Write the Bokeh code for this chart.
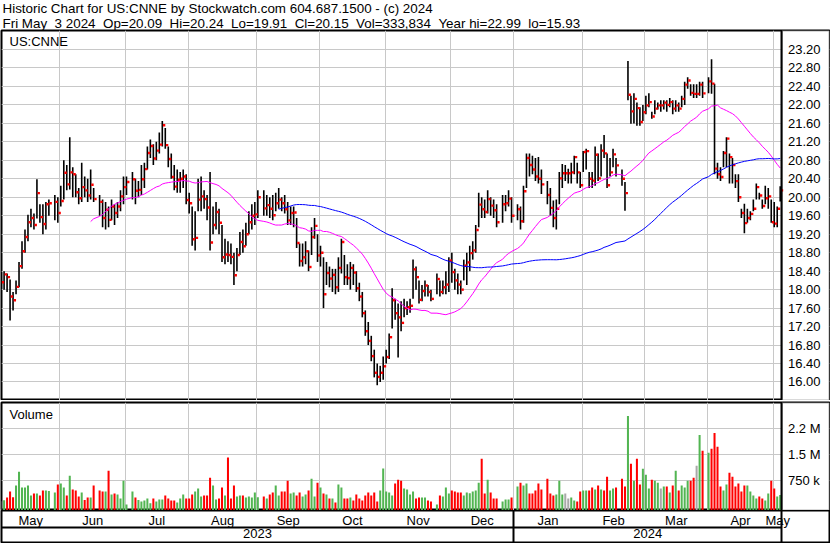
import numpy as np
import pandas as pd
from bokeh.plotting import figure
from bokeh.layouts import column
from bokeh.models import (ColumnDataSource, Range1d, LinearAxis, FixedTicker,
                          BoxAnnotation, Label, Title, PrintfTickFormatter)
from bokeh.transform import dodge
from bokeh.embed import file_html
from bokeh.resources import INLINE

# ---------------- data ----------------
first_day = "2023-05-04"
last_day = "2024-05-03"
holidays = ["2023-05-29", "2023-06-19", "2023-07-04", "2023-09-04", "2023-11-23",
            "2023-12-25", "2024-01-01", "2024-01-15", "2024-02-19", "2024-03-29"]

high = [
    18.38, 18.40,
    18.35, 18.22, 17.95, 18.20, 18.60,
    19.05, 19.30, 19.62, 19.75, 19.65,
    20.39, 19.85, 19.85, 19.90, 19.95,
    20.05, 20.00, 20.25, 20.80,
    20.70, 21.30, 20.65, 20.50, 20.20,
    20.75, 20.45, 20.40, 20.60, 20.20,
    20.05, 19.95, 19.90, 19.80,
    19.95, 19.85, 19.90, 20.15, 20.45,
    20.45, 20.55, 20.40, 20.35,
    20.70, 20.75, 21.10, 21.25, 21.15,
    21.20, 21.40, 21.65, 21.50, 21.10,
    20.95, 20.70, 20.60, 20.55, 20.60,
    20.50, 20.10, 19.80, 19.70, 20.40,
    20.45, 20.15, 20.05, 20.55, 19.80,
    19.90, 19.75, 19.40, 19.10, 19.05,
    19.00, 18.80, 18.90, 19.25, 19.30,
    19.45, 19.70, 19.85, 19.90, 20.15,
    20.15, 20.05, 20.00, 20.05,
    20.10, 20.20, 20.00, 20.05, 19.90,
    19.80, 19.80, 19.55, 19.00, 19.00,
    19.05, 18.85, 19.35, 19.55, 19.20,
    18.95, 18.70, 18.60, 18.50, 18.45,
    18.45, 18.70, 19.10, 18.75, 18.55,
    18.60, 18.55, 18.40, 18.15, 17.95,
    17.55, 17.30, 17.00, 16.70, 16.40,
    16.35, 16.55, 16.70, 17.05, 18.03,
    17.80, 17.70, 17.75, 17.80, 17.75,
    17.80, 18.65, 18.50, 18.20, 18.10,
    18.20, 18.10, 18.00, 18.35,
    18.20, 18.20, 18.40, 18.70, 18.80,
    18.45, 18.35, 18.20, 18.65, 18.80,
    18.95, 19.05, 19.40, 20.10, 20.00,
    19.95, 20.15, 20.00, 19.95, 19.85,
    20.05, 20.05, 20.15, 20.00,
    19.85, 19.80, 20.25, 20.95,
    20.95, 20.90, 20.85, 20.87, 20.60,
    20.35, 20.20, 19.93, 19.95,
    20.55, 20.72, 20.70, 20.62, 20.75,
    20.90, 20.75, 20.55, 21.00, 21.05,
    20.55, 20.55, 21.10, 20.95, 21.15,
    21.35, 20.95, 20.85, 21.05, 20.85,
    20.60, 20.33, 22.95, 22.20,
    22.25, 22.05, 21.95, 22.00, 22.20,
    22.25, 21.85, 22.10, 22.05, 22.10,
    22.10, 22.10, 22.15, 22.10, 22.10,
    22.05, 22.20, 22.50, 22.60, 22.45,
    22.45, 22.45, 22.50, 22.50,
    22.60, 22.99, 22.46, 20.75, 20.65,
    21.00, 21.30, 20.95, 20.85, 20.50,
    20.50, 19.75, 19.86, 19.75, 19.70,
    19.95, 20.30, 20.10, 19.95, 20.25,
    20.20, 19.95, 19.90, 19.80, 20.24,
]

low = [
    17.98, 18.00,
    17.95, 17.33, 17.55, 17.90, 18.05,
    18.45, 18.80, 19.05, 19.35, 19.30,
    19.54, 19.45, 19.20, 19.30, 19.60,
    19.50, 19.45, 19.80, 19.95,
    20.15, 20.17, 20.00, 20.00, 19.85,
    19.90, 20.00, 19.90, 19.95, 19.90,
    19.60, 19.35, 19.30, 19.35,
    19.50, 19.40, 19.55, 19.70, 19.85,
    20.05, 19.95, 19.85, 20.00,
    20.05, 20.20, 20.60, 20.85, 20.70,
    20.80, 20.95, 21.10, 21.05, 20.65,
    20.40, 20.15, 20.10, 20.10, 20.20,
    19.85, 19.65, 18.95, 18.85, 19.70,
    19.70, 19.75, 19.50, 18.85, 19.20,
    19.30, 19.20, 18.60, 18.55, 18.60,
    18.55, 18.10, 18.40, 18.75, 18.80,
    18.95, 19.20, 19.30, 19.40, 19.55,
    19.60, 19.60, 19.55, 19.50,
    19.70, 19.75, 19.70, 19.65, 19.40,
    19.40, 19.35, 18.90, 18.50, 18.50,
    18.55, 18.40, 18.75, 19.10, 18.60,
    18.50, 17.60, 18.10, 18.05, 17.95,
    17.90, 17.95, 18.35, 18.10, 18.10,
    18.00, 18.10, 17.95, 17.75, 17.40,
    17.00, 16.80, 16.45, 16.10, 15.93,
    16.00, 16.05, 16.40, 16.50, 17.16,
    17.35, 16.53, 17.10, 17.40, 17.45,
    17.50, 17.80, 18.00, 17.70, 17.75,
    17.85, 17.85, 17.75, 17.90,
    17.85, 17.90, 17.90, 17.95, 18.15,
    18.00, 17.90, 17.90, 18.20, 18.10,
    18.40, 18.65, 18.80, 19.35, 19.55,
    19.55, 19.65, 19.60, 19.55, 19.35,
    19.45, 19.70, 19.80, 19.45,
    19.50, 19.30, 19.45, 20.20,
    20.45, 20.50, 20.35, 20.30, 20.07,
    19.85, 19.60, 19.35, 19.30,
    19.85, 20.20, 20.35, 20.30, 20.30,
    20.50, 20.30, 20.20, 20.55, 20.60,
    20.20, 20.20, 20.25, 20.35, 20.45,
    20.85, 20.20, 20.45, 20.65, 20.45,
    20.25, 19.71, 22.10, 21.59,
    21.60, 21.55, 21.55, 21.65, 21.80,
    21.95, 21.70, 21.80, 21.90, 21.85,
    21.90, 21.85, 21.95, 21.80, 21.85,
    21.85, 21.95, 22.00, 22.35, 22.20,
    22.15, 22.15, 22.20, 22.15,
    22.25, 22.24, 20.50, 20.40, 20.35,
    20.65, 20.65, 20.30, 20.30, 20.20,
    19.90, 19.55, 19.22, 19.45, 19.50,
    19.70, 19.95, 19.95, 19.75, 19.85,
    19.75, 19.45, 19.35, 19.35, 19.91,
]

close = [
    18.16, 18.33,
    18.27, 17.85, 17.77, 18.06, 18.51,
    18.83, 19.14, 19.46, 19.55, 19.40,
    20.09, 19.57, 19.42, 19.85, 19.87,
    19.90, 19.66, 19.92, 20.53,
    20.28, 20.54, 20.50, 20.11, 19.98,
    20.22, 20.15, 20.04, 20.27, 19.96,
    19.90, 19.55, 19.73, 19.51,
    19.80, 19.66, 19.80, 20.02, 20.22,
    20.33, 20.39, 20.14, 20.16,
    20.39, 20.61, 20.96, 21.11, 20.84,
    21.01, 21.14, 21.56, 21.13, 20.83,
    20.44, 20.23, 20.38, 20.40, 20.45,
    19.94, 19.87, 19.09, 19.12, 19.95,
    20.02, 19.96, 19.78, 19.02, 19.40,
    19.68, 19.45, 18.70, 18.76, 18.75,
    18.71, 18.31, 18.75, 19.03, 18.94,
    19.20, 19.46, 19.60, 19.63, 20.00,
    19.76, 19.83, 19.75, 19.61,
    19.87, 19.95, 19.87, 19.74, 19.50,
    19.66, 19.67, 19.01, 18.62, 18.70,
    18.83, 18.49, 19.14, 19.38, 18.74,
    18.80, 17.90, 18.36, 18.24, 18.32,
    18.05, 18.47, 19.03, 18.27, 18.25,
    18.47, 18.37, 18.03, 17.85, 17.49,
    17.10, 16.89, 16.56, 16.20, 16.11,
    16.20, 16.34, 16.54, 16.97, 17.77,
    17.49, 17.40, 17.28, 17.60, 17.62,
    17.65, 18.44, 18.27, 17.78, 17.97,
    18.09, 17.95, 17.80, 18.23,
    17.95, 18.05, 18.11, 18.63, 18.38,
    18.20, 18.11, 18.00, 18.52, 18.59,
    18.79, 18.85, 19.29, 19.84, 19.74,
    19.68, 19.96, 19.82, 19.72, 19.46,
    19.85, 19.87, 19.97, 19.60,
    19.74, 19.48, 20.13, 20.85,
    20.70, 20.60, 20.45, 20.40, 20.28,
    20.05, 19.77, 19.55, 19.75,
    20.41, 20.52, 20.52, 20.52, 20.54,
    20.87, 20.54, 20.26, 20.98, 21.00,
    20.40, 20.36, 20.92, 20.41, 21.01,
    20.95, 20.26, 20.54, 20.93, 20.69,
    20.40, 20.09, 22.22, 21.86,
    22.13, 21.93, 21.63, 21.84, 21.99,
    22.06, 21.75, 21.92, 21.99, 21.99,
    22.05, 22.00, 22.06, 21.92, 21.99,
    21.92, 22.13, 22.44, 22.53, 22.26,
    22.24, 22.24, 22.44, 22.25,
    22.51, 22.46, 20.62, 20.50, 20.44,
    20.96, 21.27, 20.87, 20.70, 20.35,
    20.00, 19.66, 19.44, 19.55, 19.64,
    19.75, 20.22, 20.04, 19.81, 19.98,
    20.02, 19.46, 19.43, 19.75, 20.15,
]

volume_k = [
    150, 180,
    260, 433, 269, 606, 1010,
    548, 548, 606, 317, 375,
    375, 317, 462, 462, 450,
    404, 635, 664, 548,
    317, 894, 490, 462, 288,
    404, 188, 260, 260, 606,
    462, 433, 433, 1039,
    346, 375, 346, 231, 750,
    58, 433, 260, 188,
    144, 173, 231, 96, 231,
    144, 202, 202, 317, 231,
    173, 173, 115, 231, 346,
    231, 231, 346, 433, 519,
    288, 317, 317, 837, 606,
    202, 231, 548, 317, 1423,
    231, 606, 288, 317, 317,
    260, 288, 260, 404, 269,
    288, 231, 346, 404,
    606, 317, 433, 433, 750,
    375, 404, 317, 404, 288,
    346, 462, 808, 288, 692,
    548, 375, 346, 231, 231,
    115, 635, 548, 231, 231,
    260, 173, 346, 231, 173,
    317, 404, 317, 404, 144,
    462, 1106, 433, 404, 317,
    664, 779, 750, 519, 490,
    346, 433, 231, 260, 260,
    260, 173, 144, 58,
    317, 288, 548, 375, 462,
    433, 404, 404, 317, 404,
    385, 433, 462, 692, 1385,
    375, 779, 404, 231, 231,
    144, 202, 202, 260,
    577, 692, 606, 664,
    375, 375, 462, 664, 490,
    808, 375, 317, 346,
    750, 346, 375, 231, 260,
    173, 144, 433, 462, 462,
    462, 548, 490, 606, 490,
    462, 865, 462, 519, 548,
    808, 577, 2625, 1241,
    750, 1385, 635, 1096, 923,
    519, 779, 750, 692, 519,
    577, 577, 404, 606, 1039,
    462, 606, 548, 750, 750,
    837, 1183, 2077, 1616,
    1558, 1673, 2135, 1731, 577,
    462, 635, 981, 865, 577,
    664, 433, 606, 606, 433,
    317, 231, 288, 231, 173,
    375, 750, 519, 288, 334,
]

price_ticks = [16.00, 16.40, 16.80, 17.20, 17.60, 18.00, 18.40, 18.80, 19.20, 19.60,
               20.00, 20.40, 20.80, 21.20, 21.60, 22.00, 22.40, 22.80, 23.20]
vol_ticks = [750000, 1500000, 2250000]
vol_tick_labels = ["750 k", "1.5 M", "2.2 M"]
month_names = ["May", "Jun", "Jul", "Aug", "Sep", "Oct", "Nov", "Dec",
               "Jan", "Feb", "Mar", "Apr", "May"]
year_names = ["2023", "2024"]
symbol = "US:CNNE"
header1 = "Historic Chart for US:CNNE by Stockwatch.com 604.687.1500 - (c) 2024"
header2 = ("Fri May \u00a03 2024 \u00a0Op=20.09 \u00a0Hi=20.24 \u00a0Lo=19.91 \u00a0Cl=20.15"
           " \u00a0Vol=333,834 \u00a0Year hi=22.99 \u00a0lo=15.93")

# ---------------- styling / layout ----------------
FONT = "Liberation Sans"
W = 830
GRID = "#c8c8c8"
GREEN = "#52b552"
RED = "#ff0000"
GREY = "#a8a8a8"

wdays = pd.bdate_range(first_day, last_day)
hol = set(pd.to_datetime(holidays))
xpos = [i for i, d in enumerate(wdays) if d not in hol]
n = min(len(xpos), len(high), len(low), len(close), len(volume_k))
x = np.array(xpos[:n], dtype=float)
cl = np.array(close[:n], dtype=float)
ma30 = pd.Series(cl).rolling(30).mean().to_numpy()
ma90 = pd.Series(cl).rolling(90).mean().to_numpy()
vol = np.array(volume_k[:n], dtype=float) * 1000
vcol = []
for k in range(n):
    if k == 0 or cl[k] == cl[k - 1]:
        vcol.append(GREY)
    elif cl[k] > cl[k - 1]:
        vcol.append(GREEN)
    else:
        vcol.append(RED)

src = ColumnDataSource(dict(x=x, high=high[:n], low=low[:n], close=cl,
                            ma30=ma30, ma90=ma90, vol=vol, color=vcol))

S = 2.985                      # px per weekday slot
X0 = 0.13
SEP = len(wdays) - 1 + 0.6
XEND = X0 + 828 / S
xr = Range1d(X0, XEND)

per = wdays.to_period("M")
months = sorted(set(per))
bounds = []
for m in months[1:]:
    bounds.append(float(np.argmax(per == m)) - 0.3)
edges = [X0] + bounds + [SEP]
mids = [round((edges[k] + edges[k + 1]) / 2, 3) for k in range(len(edges) - 1)]
jan_b = float(np.argmax(wdays.year == 2024)) - 0.3
ymids = [round((X0 + jan_b) / 2, 3), round((jan_b + SEP) / 2, 3)]


def base_fig(height, y_range, top=0):
    f = figure(width=W, height=height, x_range=xr, y_range=y_range,
               x_axis_location=None, y_axis_location=None,
               output_backend="svg", toolbar_location=None,
               min_border_left=1, min_border_right=1,
               min_border_top=top, min_border_bottom=0,
               outline_line_color="black", outline_line_width=2,
               background_fill_color="white", border_fill_color="white")
    f.title.text = ""
    return f


def right_axis(ticks, **kw):
    return LinearAxis(fixed_location=SEP, ticker=FixedTicker(ticks=ticks),
                      axis_line_color="black", axis_line_width=2,
                      major_tick_line_color=None, minor_tick_line_color=None,
                      major_tick_out=0, major_tick_in=0,
                      major_label_standoff=6, major_label_text_font=FONT,
                      major_label_text_font_size="13px",
                      major_label_text_color="black", **kw)


# ----- price panel -----
PPX = 46.18                    # px per dollar
PY1 = 23.20 + 19 / PPX         # frame top (30 px) -> gridline 23.20 at y=49
PY0 = PY1 - 370 / PPX
p = base_fig(400, Range1d(PY0, PY1))
p.xgrid.ticker = FixedTicker(ticks=bounds)
p.ygrid.ticker = FixedTicker(ticks=price_ticks)
p.xgrid.grid_line_color = GRID
p.ygrid.grid_line_color = GRID
p.add_layout(BoxAnnotation(left=SEP, fill_color="white", fill_alpha=1.0,
                           line_color="black", line_width=2, level="underlay"))
p.add_layout(Title(text=header2, align="left", text_font=FONT, text_font_size="13.4px",
                   text_font_style="normal", text_color="black", standoff=0, offset=1), "above")
p.add_layout(Title(text=header1, align="left", text_font=FONT, text_font_size="13.4px",
                   text_font_style="normal", text_color="black", standoff=-4, offset=1), "above")

p.segment(x0="x", y0="low", x1="x", y1="high", source=src,
          line_color="black", line_width=1.6)
p.rect(x=dodge("x", 0.6), y="close", width=2.4, height=2.4,
       width_units="screen", height_units="screen", source=src,
       fill_color="#ff0000", line_color=None)
p.line("x", "ma30", source=src, line_color="#ff00ff", line_width=1)
p.line("x", "ma90", source=src, line_color="#0000ff", line_width=1)

p.add_layout(right_axis(price_ticks, formatter=PrintfTickFormatter(format="%.2f")), "right")
p.add_layout(Label(x=X0, y=PY1, x_offset=8, y_offset=-3, text=symbol,
                   text_baseline="top", text_font=FONT, text_font_size="13px",
                   text_color="black"))

# ----- volume panel -----
PXV = 25.85                    # px per 750k
VY0 = -4 * 750000 / PXV
VY1 = VY0 + 108 * 750000 / PXV
v = base_fig(110, Range1d(VY0, VY1), top=2)
v.xgrid.ticker = FixedTicker(ticks=bounds)
v.ygrid.ticker = FixedTicker(ticks=vol_ticks)
v.xgrid.grid_line_color = GRID
v.ygrid.grid_line_color = GRID
v.add_layout(BoxAnnotation(left=SEP, fill_color="white", fill_alpha=1.0,
                           line_color="black", line_width=2, level="underlay"))
v.vbar(x="x", top="vol", bottom=VY0, width=0.68, source=src,
       fill_color="color", line_color=None)
v.add_layout(right_axis(vol_ticks, major_label_overrides={t: s for t, s in zip(vol_ticks, vol_tick_labels)}), "right")
v.add_layout(Label(x=X0, y=VY1, x_offset=8, y_offset=-4, text="Volume",
                   text_baseline="top", text_font=FONT, text_font_size="13px",
                   text_color="black"))

# ----- time axis rows -----
b = base_fig(33, Range1d(0, 33))
b.ygrid.visible = False
b.xgrid.ticker = FixedTicker(ticks=[jan_b, SEP])
b.xgrid.grid_line_color = "black"
b.xgrid.grid_line_width = 2
max_ = LinearAxis(fixed_location=33, ticker=FixedTicker(ticks=mids),
                  major_label_overrides={m: s for m, s in zip(mids, month_names)},
                  axis_line_color=None, major_tick_line_color=None,
                  minor_tick_line_color=None, major_tick_out=0, major_tick_in=0,
                  major_label_standoff=2, major_label_text_font=FONT,
                  major_label_text_font_size="13px", major_label_text_color="black")
b.add_layout(max_, "below")
yax = LinearAxis(fixed_location=16.5, bounds=(X0, SEP), ticker=FixedTicker(ticks=ymids),
                 major_label_overrides={m: s for m, s in zip(ymids, year_names)},
                 axis_line_color="black", axis_line_width=2, major_tick_line_color=None,
                 minor_tick_line_color=None, major_tick_out=0, major_tick_in=0,
                 major_label_standoff=2, major_label_text_font=FONT,
                 major_label_text_font_size="13px", major_label_text_color="black")
b.add_layout(yax, "below")

layout = column(p, v, b, spacing=0)
open("out.html", "w").write(file_html(layout, INLINE))
